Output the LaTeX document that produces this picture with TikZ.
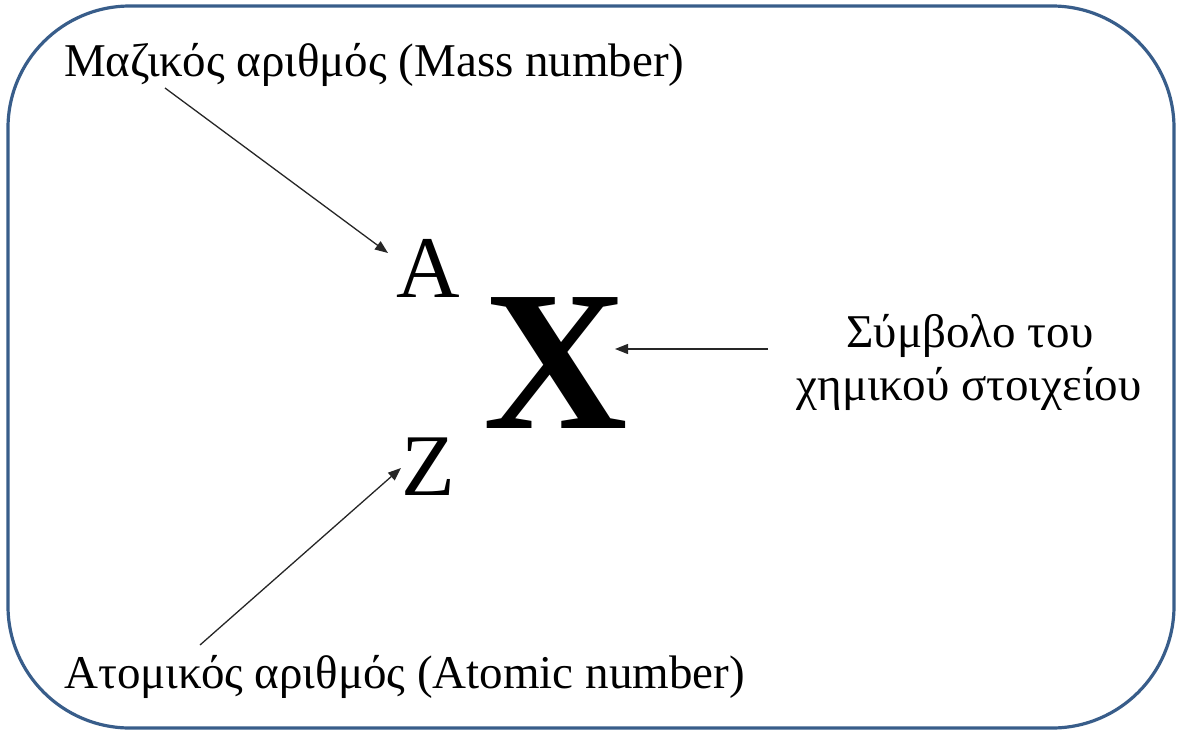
\documentclass[tikz,border=0pt]{standalone}
\usepackage{fontspec}
\setmainfont{Liberation Serif}
\usetikzlibrary{arrows.meta}
\definecolor{frameblue}{RGB}{56,93,138}
\tikzset{
  lbl/.style={inner sep=0pt, font=\fontsize{47}{52}\selectfont},
  big/.style={inner sep=0pt, font=\fontsize{88}{100}\selectfont},
  huge/.style={inner sep=0pt, font=\fontsize{200}{220}\selectfont\bfseries},
  pointer/.style={line width=1.3pt, draw=black!85, -{Triangle[length=13pt,width=10pt]}},
}
\begin{document}
\begin{tikzpicture}[x=1pt,y=-1pt]
\useasboundingbox (0,0) rectangle (1177,731);
\draw[frameblue, line width=3.2pt, rounded corners=122pt] (8,6) rectangle (1174,728);
\node[lbl, anchor=base west] (mass) at (64,76) {Μαζικός αριθμός (Mass number)};
\node[lbl, anchor=base west] (atomic) at (64,688) {Ατομικός αριθμός (Atomic number)};
\node[big, anchor=base] (A) at (428,297) {A};
\node[big, anchor=base] (Z) at (428,495) {Z};
\node[huge, anchor=base] (X) at (556,428) {X};
\node[lbl, anchor=base] (sym) at (970,347) {Σύμβολο του};
\node[lbl, anchor=base] (sym2) at (969,400) {χημικού στοιχείου};
\coordinate (m0) at (165,88);
\coordinate (mA) at (388,253);
\coordinate (a0) at (200,645);
\coordinate (aZ) at (401,468);
\coordinate (s0) at (768,349);
\coordinate (sX) at (615,349);
\draw[pointer] (m0) -- (mA);
\draw[pointer] (a0) -- (aZ);
\draw[pointer] (s0) -- (sX);
\end{tikzpicture}
\end{document}
